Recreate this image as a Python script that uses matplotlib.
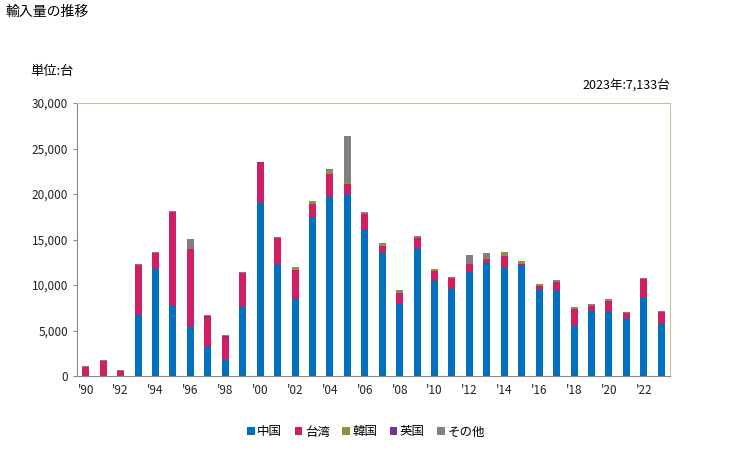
import matplotlib
matplotlib.use("Agg")
import matplotlib.pyplot as plt
import numpy as np
from matplotlib.ticker import FuncFormatter, MultipleLocator

plt.rcParams['font.family'] = ['Noto Sans CJK JP', 'DejaVu Sans']

years = list(range(1990, 2024))
china = [0, 0, 0, 6700, 11750, 7730, 5390, 3190, 1800, 7580, 19000, 12200, 8460, 17400,
         19670, 19890, 16080, 13520, 7960, 13950, 10440, 9560, 11460, 12400, 11890, 12110,
         9490, 9340, 5530, 7140, 7070, 6260, 8610, 5750]
taiwan = [1000, 1650, 600, 5500, 1750, 10270, 8560, 3330, 2530, 3720, 4370, 3000, 3190, 1500,
          2530, 1210, 1720, 770, 1170, 1210, 1100, 1210, 840, 440, 1320, 220,
          440, 990, 1830, 550, 1170, 660, 2050, 1280]
korea = [0, 0, 0, 0, 0, 0, 0, 0, 0, 0, 0, 0, 330, 300,
         330, 220, 0, 250, 170, 0, 180, 0, 0, 110, 260, 260,
         150, 0, 150, 0, 110, 0, 0, 0]
uk = [0, 0, 0, 0, 0, 0, 0, 110, 110, 0, 110, 0, 0, 0,
      0, 0, 0, 0, 0, 0, 0, 0, 0, 0, 0, 0,
      0, 0, 0, 0, 0, 0, 0, 0]
other = [100, 110, 60, 100, 100, 100, 1100, 70, 60, 100, 70, 100, 0, 30,
         220, 5060, 220, 60, 150, 220, 30, 110, 1030, 550, 150, 30,
         70, 180, 70, 220, 110, 140, 110, 103]

series_names = ['中国', '台湾', '韓国', '英国', 'その他']
series = [china, taiwan, korea, uk, other]
colors = ['#0070c0', '#d01f62', '#7f9a3a', '#7030a0', '#808080']

fig = plt.figure(figsize=(7.29, 4.5), dpi=100)
ax = fig.add_axes([77/729, (450-376)/450, (670-77)/729, (376-103)/450])

x = np.arange(len(years))
bottom = np.zeros(len(years))
for name, vals, c in zip(series_names, series, colors):
    v = np.array(vals, dtype=float)
    ax.bar(x, v, width=0.4, bottom=bottom, color=c, label=name, linewidth=0)
    bottom += v

ax.set_xlim(-0.5, len(years) - 0.5)
ax.set_ylim(0, 30000)
ax.yaxis.set_major_locator(MultipleLocator(5000))
ax.yaxis.set_major_formatter(FuncFormatter(lambda v, p: f'{int(v):,}'))
ax.set_xticks(x[::2])
ax.set_xticklabels([f"'{str(y)[2:]}" for y in years[::2]])
ax.tick_params(axis='both', labelsize=8.5, colors='#222222', length=3, color='#888888')
ax.tick_params(axis='x', length=0, pad=6)

for s in ['left', 'bottom']:
    ax.spines[s].set_color('#888888')
for s in ['top', 'right']:
    ax.spines[s].set_color('#c8bf9f')

fig.text(5/729, 1 - 12/450, '輸入量の推移', fontsize=10, va='center', ha='left')
fig.text(30/729, 1 - 72/450, '単位:台', fontsize=9.5, va='center', ha='left')
fig.text(670/729, 1 - 86/450, '2023年:7,133台', fontsize=9, va='center', ha='right')

handles, labels = ax.get_legend_handles_labels()
fig.legend(handles, labels, loc='center', bbox_to_anchor=(366/729, 1 - 432/450), ncol=5,
           frameon=False, fontsize=9, handlelength=0.6, handleheight=0.6,
           handletextpad=0.2, columnspacing=1.0)

fig.savefig('out.png', dpi=100)
